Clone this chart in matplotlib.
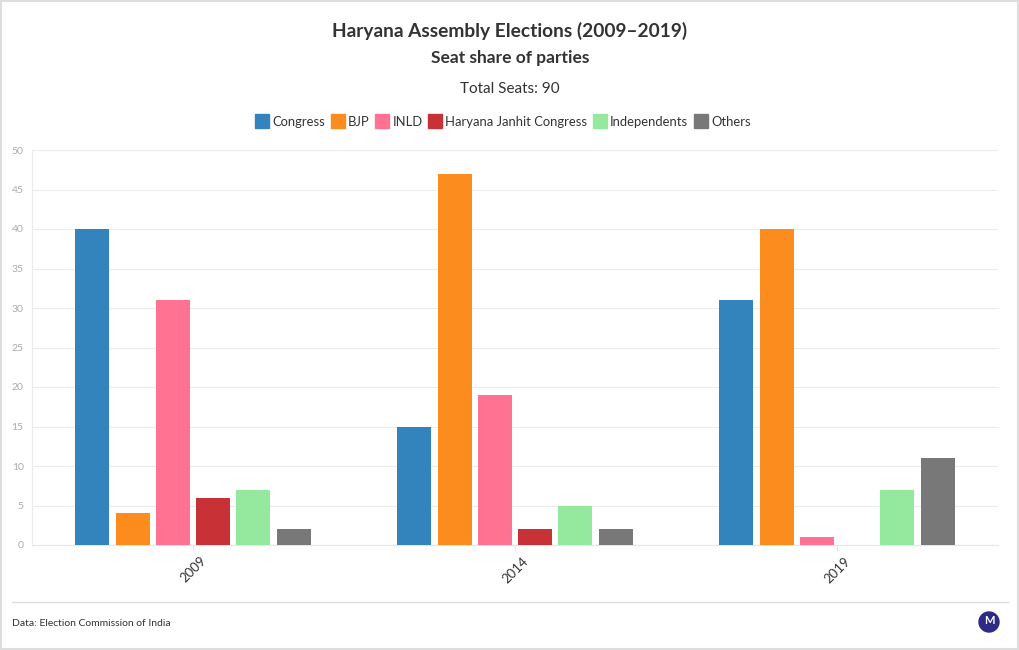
import numpy as np
import matplotlib
matplotlib.use("Agg")
import matplotlib.pyplot as plt
from matplotlib.lines import Line2D
from matplotlib.patches import Circle, Rectangle

# data
years = ["2009", "2014", "2019"]
parties = ["Congress", "BJP", "INLD", "Haryana Janhit Congress", "Independents", "Others"]
congress = [40, 15, 31]
bjp = [4, 47, 40]
inld = [31, 19, 1]
hjc = [6, 2, 0]
independents = [7, 5, 7]
others = [2, 2, 11]
colors = ["#3383bc", "#fd8c1e", "#ff7292", "#c83236", "#95e99e", "#787878"]

plt.rcParams["font.family"] = ["Lato", "DejaVu Sans"]

fig = plt.figure(figsize=(10.2, 6.5), dpi=100)
ax = fig.add_axes([32 / 1020, 1 - 545 / 650, (998 - 32) / 1020, (545 - 150) / 650])

series = [congress, bjp, inld, hjc, independents, others]
x = np.arange(len(years))
step = 0.125
width = 0.106
for i, (vals, c) in enumerate(zip(series, colors)):
    ax.bar(x + (i - 2.5) * step, vals, width=width, color=c, zorder=3)

ax.set_xlim(-0.5, 2.5)
ax.set_ylim(0, 50)
ax.set_yticks(range(0, 51, 5))
ax.set_xticks(x)
ax.set_xticklabels(years, rotation=45, fontsize=9.5, color="#333333")
ax.tick_params(axis="y", labelsize=7.5, labelcolor="#aaaaaa", length=0, pad=6)
ax.tick_params(axis="x", length=4, color="#e6e6e6", pad=3)
ax.grid(axis="y", color="#ececec", linewidth=0.8, zorder=0)
for s in ["top", "right"]:
    ax.spines[s].set_visible(False)
ax.spines["left"].set_color("#ececec")
ax.spines["bottom"].set_color("#e6e6e6")

fig.text(0.5, 1 - 31 / 650, "Haryana Assembly Elections (2009\u20132019)", ha="center", va="center",
         fontsize=13.8, fontweight="bold", color="#333333")
fig.text(0.5, 1 - 58 / 650, "Seat share of parties", ha="center", va="center",
         fontsize=12.5, fontweight="bold", color="#333333")
fig.text(0.5, 1 - 89 / 650, "Total Seats: 90", ha="center", va="center",
         fontsize=11, color="#333333")

handles = [Line2D([], [], marker="s", linestyle="", markersize=10, markerfacecolor=c,
                  markeredgecolor=c) for c in colors]
fig.legend(handles, parties, loc="center", bbox_to_anchor=(0.494, 1 - 122 / 650), ncol=6,
           frameon=False, fontsize=9.4, handlelength=0.8, handletextpad=0.35,
           columnspacing=0.6, labelcolor="#333333")

# footer
fig.add_artist(Line2D([12 / 1020, 1008 / 1020], [1 - 602 / 650] * 2, color="#dddddd", linewidth=1))
fig.text(12 / 1020, 1 - 624 / 650, "Data: Election Commission of India", ha="left", va="center",
         fontsize=7.5, color="#333333")
logo = Circle((989 / 100, (650 - 622) / 100), 0.1, transform=fig.dpi_scale_trans, color="#2e2a86")
fig.add_artist(logo)
fig.text(989 / 1020, 1 - 621 / 650, "M", ha="center", va="center", fontsize=8,
         fontweight="bold", color="white")

# outer border
fig.add_artist(Rectangle((0.001, 0.001), 0.997, 0.997, transform=fig.transFigure,
                         fill=False, edgecolor="#dddddd", linewidth=1.5))

fig.savefig("out.png", dpi=100)
